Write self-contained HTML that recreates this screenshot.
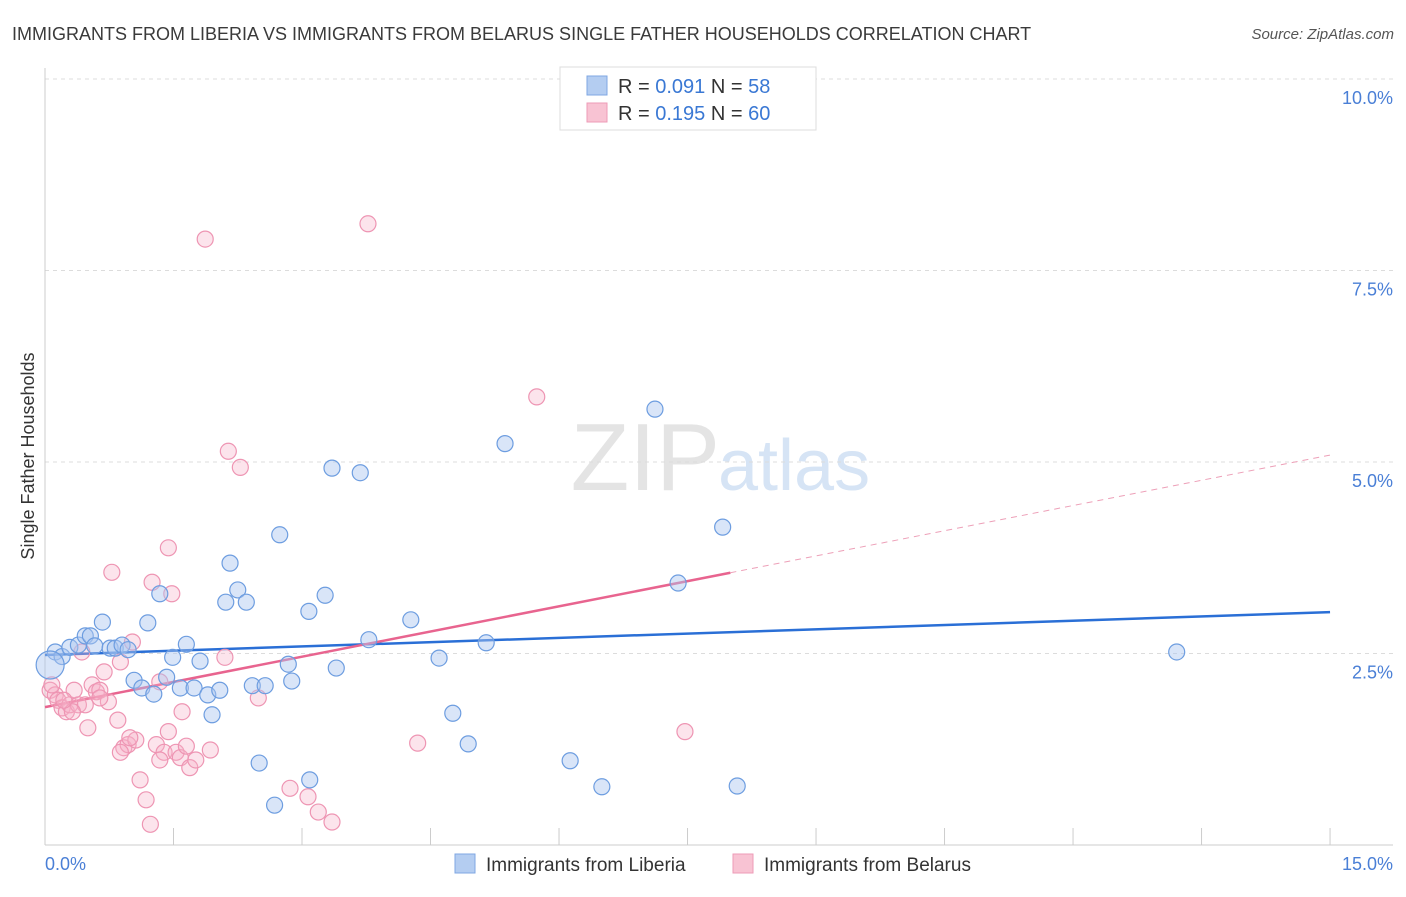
<!DOCTYPE html>
<html><head><meta charset="utf-8"><style>
body{margin:0;background:#fff;font-family:"Liberation Sans",sans-serif;}
svg text{font-family:"Liberation Sans",sans-serif;}
</style></head><body>
<svg id="chart" width="1406" height="892" xmlns="http://www.w3.org/2000/svg">
<text x="12" y="40" font-size="18" fill="#3a3a3a">IMMIGRANTS FROM LIBERIA VS IMMIGRANTS FROM BELARUS SINGLE FATHER HOUSEHOLDS CORRELATION CHART</text>
<text x="1394" y="39" font-size="15" fill="#555" font-style="italic" text-anchor="end">Source: ZipAtlas.com</text>
<text x="720" y="490" font-size="96" fill="#e4e4e4" text-anchor="end" font-family="Liberation Serif">ZIP</text>
<text x="718" y="490" font-size="72" fill="#d6e4f5">atlas</text>
<text transform="translate(34,456) rotate(-90)" font-size="18" fill="#333" text-anchor="middle">Single Father Households</text>
<g id="grid"></g><g id="axes"></g><g id="trends"></g><g id="points"></g>
<g>
<rect x="560" y="67" width="256" height="63" fill="#fff" stroke="#ddd"/>
<rect x="587" y="76" width="20" height="19" fill="#b4cdf1" stroke="#7fa7e3"/>
<rect x="587" y="103" width="20" height="19" fill="#f8c3d3" stroke="#ee9bb7"/>
<text x="618" y="93" font-size="20" fill="#333">R = <tspan fill="#3a78d4">0.091</tspan>   N = <tspan fill="#3a78d4">58</tspan></text>
<text x="618" y="120" font-size="20" fill="#333">R = <tspan fill="#3a78d4"> 0.195</tspan>   N = <tspan fill="#3a78d4">60</tspan></text>
</g>
<g>
<rect x="455" y="854" width="20" height="19" fill="#b4cdf1" stroke="#7fa7e3"/>
<text x="486" y="871" font-size="19" fill="#333">Immigrants from Liberia</text>
<rect x="733" y="854" width="20" height="19" fill="#f8c3d3" stroke="#ee9bb7"/>
<text x="764" y="871" font-size="19" fill="#333">Immigrants from Belarus</text>
</g>
</svg>
<script>
const liberiaX=[.12,.20,.29,.39,.47,.53,.58,.67,.76,.82,.90,.97,1.04,1.13,1.20,1.27,1.34,1.42,1.49,1.58,1.65,1.74,1.81,1.90,1.95,2.04,2.11,2.16,2.25,2.35,2.42,2.50,2.57,2.68,2.74,2.84,2.88,3.08,3.09,3.27,3.35,3.40,3.68,3.78,4.27,4.60,4.76,4.94,5.37,5.15,6.13,6.50,7.12,7.39,7.91,8.08,13.21,.06];
const liberiaY=[2.52,2.46,2.58,2.61,2.73,2.73,2.60,2.91,2.57,2.57,2.61,2.55,2.15,2.05,2.90,1.97,3.28,2.19,2.45,2.05,2.62,2.05,2.40,1.96,1.70,2.02,3.17,3.68,3.33,3.17,2.08,1.07,2.08,0.52,4.05,2.36,2.14,3.05,0.85,3.26,4.92,2.31,4.86,2.68,2.94,2.44,1.72,1.32,5.24,2.64,1.10,0.76,5.69,3.42,4.15,0.77,2.52,2.35];
const belarusX=[.06,.12,.15,.20,.25,.29,.34,.39,.43,.50,.55,.60,.64,.69,.74,.78,.85,.88,.92,.97,1.02,1.06,1.11,1.18,1.23,1.25,1.30,1.34,1.39,1.44,1.48,1.53,1.58,1.60,1.65,1.69,1.76,1.87,1.93,2.10,2.14,2.28,2.49,2.86,3.07,3.19,3.35,3.77,4.35,5.74,7.47,1.34,.88,.47,.32,.64,.22,.08,.99,1.44];
const belarusY=[2.02,1.96,1.89,1.79,1.74,1.83,2.02,1.83,2.52,1.53,2.09,2.00,2.02,2.26,1.87,3.56,1.63,2.39,1.27,1.31,2.65,1.37,0.85,0.59,0.27,3.43,1.31,2.13,1.21,3.88,3.28,1.21,1.14,1.74,1.29,1.01,1.11,7.91,1.24,2.45,5.14,4.93,1.92,0.74,0.63,0.43,0.30,8.11,1.33,5.85,1.48,1.11,1.21,1.83,1.74,1.92,1.89,2.09,1.40,1.48];
const liberiaTrend=[2.48,3.04];
const belarusTrend=[1.80,5.09];
const belarusSolidEnd=8.0;
const yTicks=[2.5,5.0,7.5,10.0];
const xTickVals=[0,1.5,3,4.5,6,7.5,9,10.5,12,13.5,15];
const NS="http://www.w3.org/2000/svg";
const sx=v=>45+v*85.67, sy=v=>845-v*76.6;
function mk(tag,attrs,parent){const e=document.createElementNS(NS,tag);for(const k in attrs)e.setAttribute(k,attrs[k]);document.getElementById(parent).appendChild(e);return e;}
yTicks.forEach(t=>{
 const l=mk('line',{x1:45,x2:1393,y1:sy(t),y2:sy(t),stroke:'#dcdcdc','stroke-dasharray':'4,4'},'grid');
 
 
 const tx=mk('text',{x:1393,y:sy(t)+25,'font-size':18,fill:'#4a7fd6','text-anchor':'end'},'grid');
 tx.textContent=t.toFixed(1)+'%';
 
 
});
let a=mk('line',{x1:45,x2:45,y1:68,y2:845,stroke:'#ccc'},'axes');


a=mk('line',{x1:45,x2:1393,y1:845,y2:845,stroke:'#ccc'},'axes');


xTickVals.forEach(t=>{const l=mk('line',{x1:sx(t),x2:sx(t),y1:828,y2:845,stroke:'#ccc'},'axes');
 
 });
let t0=mk('text',{x:45,y:870,'font-size':18,fill:'#4a7fd6'},'axes');t0.textContent='0.0%';


let t1=mk('text',{x:1393,y:870,'font-size':18,fill:'#4a7fd6','text-anchor':'end'},'axes');t1.textContent='15.0%';


const lerp=(tr,x)=>tr[0]+(tr[1]-tr[0])*x/15;
let tl=mk('line',{x1:sx(0),y1:sy(lerp(liberiaTrend,0)),x2:sx(15),y2:sy(lerp(liberiaTrend,15)),stroke:'#2a6fd6','stroke-width':2.5},'trends');


tl=mk('line',{x1:sx(0),y1:sy(lerp(belarusTrend,0)),x2:sx(belarusSolidEnd),y2:sy(lerp(belarusTrend,belarusSolidEnd)),stroke:'#e8648f','stroke-width':2.5},'trends');


tl=mk('line',{x1:sx(belarusSolidEnd),y1:sy(lerp(belarusTrend,belarusSolidEnd)),x2:sx(15),y2:sy(lerp(belarusTrend,15)),stroke:'#eda0b8','stroke-width':1,'stroke-dasharray':'6,5'},'trends');


belarusX.forEach((x,i)=>{const c=mk('circle',{cx:sx(x),cy:sy(belarusY[i]),r:8,fill:'rgba(246,178,200,0.35)',stroke:'#ee95b3','stroke-width':1.2},'points');
 
 });
liberiaX.forEach((x,i)=>{const c=mk('circle',{cx:sx(x),cy:sy(liberiaY[i]),r:i===liberiaX.length-1?14:8,fill:'rgba(170,198,240,0.45)',stroke:'#6d9de0','stroke-width':1.2},'points');
 
 });
</script>
</body></html>
